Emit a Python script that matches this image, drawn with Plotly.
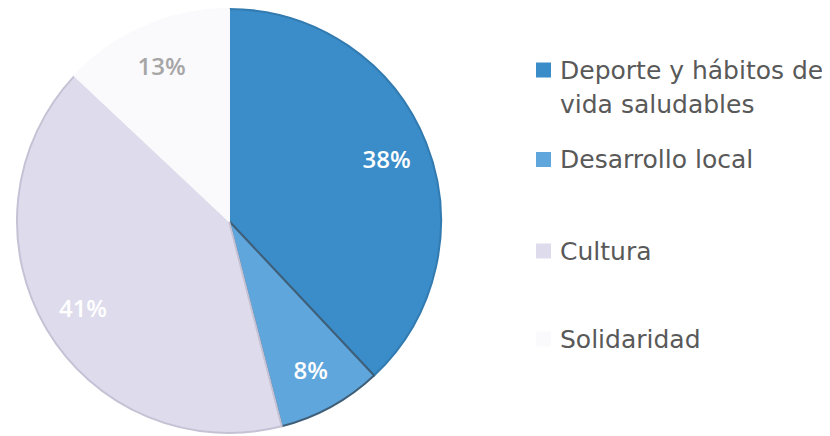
import plotly.graph_objects as go

# ---- data ----
labels = ["Deporte y hábitos de vida saludables", "Desarrollo local", "Cultura", "Solidaridad"]
legend_labels = ["Deporte y hábitos de<br>vida saludables", "Desarrollo local", "Cultura", "Solidaridad"]
values = [38, 8, 41, 13]

# ---- style ----
colors = ["#3b8dc9", "#5fa6dc", "#dedcec", "#fafafd"]
edge_colors = ["#327bb0", "#3f5f78", "#c4c2d4", "#fafafd"]
text_colors = ["#ffffff", "#ffffff", "#ffffff", "#a6a6a6"]

W, H = 830, 436
OFF = 8  # page body margin offset
def px(x):
    return (x - OFF) / W
def py(y):
    return min(1.0, max(0.0, 1 - (y - OFF) / H))

cx, cy, R = 229, 221, 212
dom_x = [px(cx - R), px(cx + R)]
dom_y = [py(cy + R), py(cy - R)]

fig = go.Figure()
fig.add_trace(go.Pie(
    labels=labels, values=values, sort=False, direction="clockwise", rotation=0,
    marker=dict(colors=colors, line=dict(color=edge_colors, width=2)),
    textinfo="none", showlegend=False, domain=dict(x=dom_x, y=dom_y),
    hoverinfo="label+percent",
))
fig.add_trace(go.Pie(
    labels=labels, values=values, sort=False, direction="clockwise", rotation=0,
    hole=0.6,
    marker=dict(colors=["rgba(0,0,0,0)"] * len(values), line=dict(width=0)),
    texttemplate="%{percent:.0%}", textposition="inside",
    insidetextorientation="horizontal",
    textfont=dict(family="Open Sans", size=24, color=text_colors, weight=600),
    showlegend=False, domain=dict(x=dom_x, y=dom_y), hoverinfo="skip",
))

# ---- manual legend (irregular spacing as in the original) ----
entry_y = [70, 159.5, 251, 339]
line_gap = 34
sq = 15
for lab, col, ey in zip(legend_labels, colors, entry_y):
    fig.add_shape(type="rect", xref="paper", yref="paper",
                  x0=px(536), x1=px(536 + sq),
                  y0=py(ey + sq / 2), y1=py(ey - sq / 2),
                  fillcolor=col, line=dict(width=0))
    for i, line in enumerate(lab.split("<br>")):
        fig.add_annotation(text=line, xref="paper", yref="paper",
                           x=px(558), y=py(ey + i * line_gap), xanchor="left", yanchor="middle",
                           align="left", showarrow=False,
                           font=dict(family="DejaVu Sans", size=25, color="#595959"))

fig.update_layout(
    width=W, height=H, margin=dict(l=0, r=0, t=0, b=0),
    paper_bgcolor="white", plot_bgcolor="white",
)
fig.write_html("out.html")
